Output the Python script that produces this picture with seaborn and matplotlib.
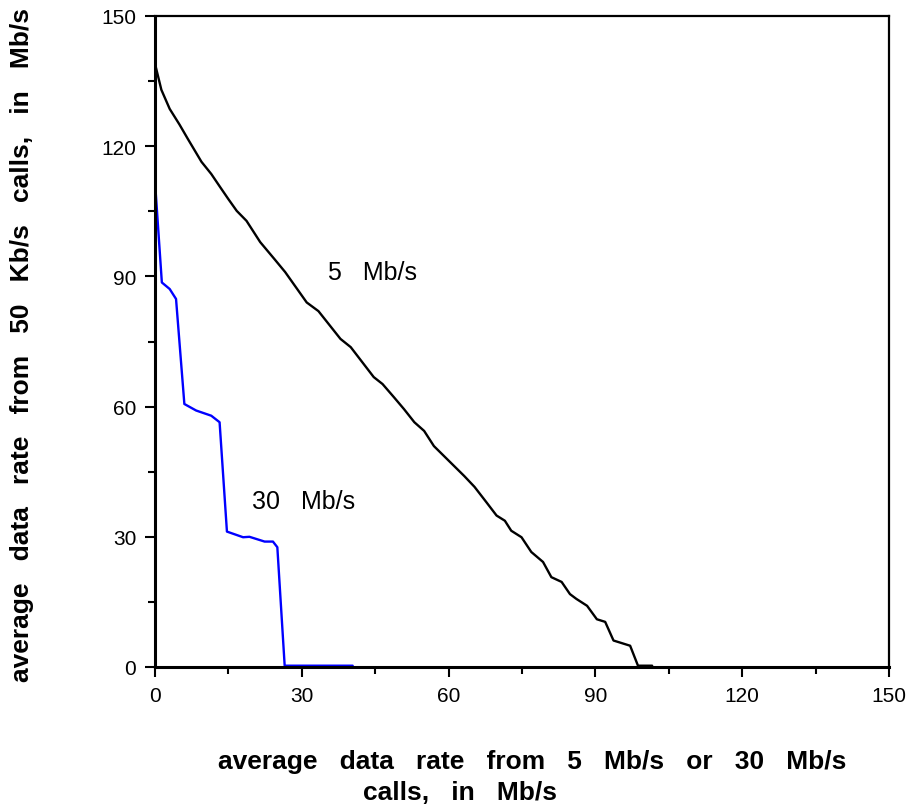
import matplotlib
matplotlib.use("Agg")
import matplotlib.pyplot as plt
import seaborn as sns
import pandas as pd
from matplotlib.ticker import MultipleLocator

# 5 Mb/s curve
x5 = [0, 1.3, 3, 5, 6.7, 9.5, 11.5, 13.3, 15, 16.7, 18.7, 21.5, 24.4, 26.6, 31, 33.4,
      37.9, 40, 44.7, 46.5, 48.8, 50.9, 53, 55, 57, 63.2, 65.3, 67.7, 69.8, 71.5,
      72.8, 74.9, 76.9, 79.3, 81, 83.1, 84.8, 86.1, 88.3, 90.3, 92, 93.7, 97.1, 98.7, 101.6]
y5 = [139, 133, 128.6, 125, 121.7, 116.4, 113.6, 110.6, 107.8, 105.1, 102.8, 97.9, 94, 91,
      84, 82, 75.6, 73.7, 66.8, 65.2, 62.2, 59.4, 56.4, 54.4, 50.9, 44, 41.5, 38, 34.9, 33.7,
      31.4, 29.9, 26.5, 24.2, 20.7, 19.6, 16.8, 15.7, 14.1, 11, 10.4, 6.1, 4.9, 0.3, 0.3]

# 30 Mb/s curve
x30 = [0, 1.4, 3, 4.3, 6, 8.4, 11.5, 13.2, 14.7, 18, 19.3, 22.4, 24.1, 25, 26.5, 40.4]
y30 = [111.8, 88.6, 87.1, 84.8, 60.6, 59.1, 57.9, 56.4, 31.2, 29.9, 30, 28.9, 28.9, 27.6, 0.3, 0.3]

ticks = [0, 30, 60, 90, 120, 150]
tick_labels = ["0", "30", "60", "90", "120", "150"]

sns.set_theme(style="white")
plt.rcParams["font.family"] = ["Liberation Sans", "DejaVu Sans"]

fig = plt.figure(figsize=(9.16, 8.12), dpi=100)
ax = fig.add_axes([155 / 916, 1 - 668 / 812, (889 - 155) / 916, (668 - 17) / 812])

df5 = pd.DataFrame({"x": x5, "y": y5})
df30 = pd.DataFrame({"x": x30, "y": y30})
sns.lineplot(data=df5, x="x", y="y", sort=False, color="black", lw=1.7, ax=ax, estimator=None)
sns.lineplot(data=df30, x="x", y="y", sort=False, color="#0000ff", lw=1.7, ax=ax, estimator=None)

ax.set_xlim(0, 150)
ax.set_ylim(0, 150)
ax.set_xticks(ticks)
ax.set_xticklabels(tick_labels)
ax.set_yticks(ticks)
ax.set_yticklabels(tick_labels)
ax.xaxis.set_minor_locator(MultipleLocator(15))
ax.yaxis.set_minor_locator(MultipleLocator(15))
ax.tick_params(which="major", direction="out", length=7.5, width=1.5, labelsize=15, pad=6,
               bottom=True, left=True, top=False, right=False, colors="black")
ax.tick_params(which="minor", direction="out", length=5, width=1.5,
               bottom=True, left=True, top=False, right=False, colors="black")
for lab in ax.get_xticklabels() + ax.get_yticklabels():
    lab.set_color("black")

for side in ["left", "bottom"]:
    ax.spines[side].set_linewidth(2.2)
for side in ["top", "right"]:
    ax.spines[side].set_linewidth(1.6)
for s in ax.spines.values():
    s.set_color("black")
    s.set_visible(True)

ax.set_xlabel("")
ax.set_ylabel("")

ax.text(35.3, 91, "5   Mb/s", fontsize=18, va="center", ha="left", color="black")
ax.text(19.8, 38.2, "30   Mb/s", fontsize=18, va="center", ha="left", color="black")

fig.text(22 / 916, 1 - 345 / 812, "average   data   rate   from   50   Kb/s   calls,   in   Mb/s",
         rotation=90, fontsize=19, fontweight="bold", ha="center", va="center", color="black")
fig.text(532 / 916, 1 - 762 / 812, "average   data   rate   from   5   Mb/s   or   30   Mb/s",
         fontsize=19, fontweight="bold", ha="center", va="center", color="black")
fig.text(460 / 916, 1 - 793 / 812, "calls,   in   Mb/s",
         fontsize=19, fontweight="bold", ha="center", va="center", color="black")

fig.savefig("out.png", dpi=100)
